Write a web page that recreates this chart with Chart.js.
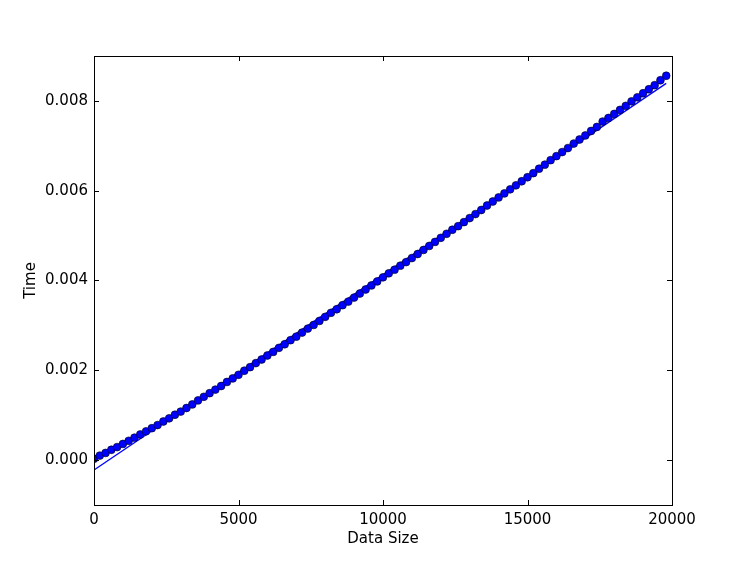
<!DOCTYPE html>
<html>
<head>
<meta charset="utf-8">
<script src="https://cdn.jsdelivr.net/npm/chart.js@4/dist/chart.umd.min.js"></script>
<style>
  html, body { margin: 0; padding: 0; background: #fff; }
  canvas { display: block; }
</style>
</head>
<body>
<canvas id="chart" width="747" height="561"></canvas>
<script>
// data sizes sampled every 200
const sizes = [
  0, 200, 400, 600, 800, 1000, 1200, 1400, 1600, 1800,
  2000, 2200, 2400, 2600, 2800, 3000, 3200, 3400, 3600, 3800,
  4000, 4200, 4400, 4600, 4800, 5000, 5200, 5400, 5600, 5800,
  6000, 6200, 6400, 6600, 6800, 7000, 7200, 7400, 7600, 7800,
  8000, 8200, 8400, 8600, 8800, 9000, 9200, 9400, 9600, 9800,
  10000, 10200, 10400, 10600, 10800, 11000, 11200, 11400, 11600, 11800,
  12000, 12200, 12400, 12600, 12800, 13000, 13200, 13400, 13600, 13800,
  14000, 14200, 14400, 14600, 14800, 15000, 15200, 15400, 15600, 15800,
  16000, 16200, 16400, 16600, 16800, 17000, 17200, 17400, 17600, 17800,
  18000, 18200, 18400, 18600, 18800, 19000, 19200, 19400, 19600, 19800
];
// measured times
const times = [
  0.00003, 0.00010, 0.00016, 0.00023, 0.00029, 0.00036, 0.00043, 0.00050, 0.00057, 0.00064,
  0.00071, 0.00078, 0.00086, 0.00093, 0.00101, 0.00108, 0.00116, 0.00124, 0.00133, 0.00141,
  0.00149, 0.00157, 0.00165, 0.00174, 0.00182, 0.00190, 0.00199, 0.00207, 0.00216, 0.00224,
  0.00233, 0.00241, 0.00250, 0.00258, 0.00267, 0.00275, 0.00284, 0.00293, 0.00301, 0.00310,
  0.00319, 0.00328, 0.00336, 0.00345, 0.00353, 0.00362, 0.00371, 0.00380, 0.00389, 0.00398,
  0.00407, 0.00416, 0.00424, 0.00433, 0.00441, 0.00450, 0.00459, 0.00468, 0.00477, 0.00486,
  0.00495, 0.00504, 0.00513, 0.00521, 0.00530, 0.00539, 0.00548, 0.00557, 0.00567, 0.00576,
  0.00585, 0.00594, 0.00603, 0.00612, 0.00621, 0.00630, 0.00639, 0.00649, 0.00658, 0.00668,
  0.00677, 0.00686, 0.00695, 0.00705, 0.00714, 0.00723, 0.00733, 0.00742, 0.00754, 0.00762,
  0.00771, 0.00780, 0.00789, 0.00799, 0.00808, 0.00817, 0.00826, 0.00835, 0.00846, 0.00856
];
// linear fit, at first and last size
const fitSizes = [0, 19800];
const fitTimes = [-0.00022, 0.00839];

const xTicks = [0, 5000, 10000, 15000, 20000];
const yTicks = [0.000, 0.002, 0.004, 0.006, 0.008];

const FONT = { family: "'DejaVu Sans', sans-serif", size: 15 };
const TICK = 5;

// inward ticks on all four sides plus the black frame
const frame = {
  id: "frame",
  afterDatasetsDraw(chart) {
    const { ctx, chartArea: a, scales } = chart;
    ctx.save();
    ctx.strokeStyle = "#000";
    ctx.lineWidth = 1;
    ctx.beginPath();
    scales.x.ticks.forEach(t => {
      const px = Math.round(scales.x.getPixelForValue(t.value)) + 0.5;
      ctx.moveTo(px, a.bottom); ctx.lineTo(px, a.bottom - TICK);
      ctx.moveTo(px, a.top); ctx.lineTo(px, a.top + TICK);
    });
    scales.y.ticks.forEach(t => {
      const py = Math.round(scales.y.getPixelForValue(t.value)) + 0.5;
      ctx.moveTo(a.left, py); ctx.lineTo(a.left + TICK, py);
      ctx.moveTo(a.right, py); ctx.lineTo(a.right - TICK, py);
    });
    ctx.stroke();
    ctx.strokeRect(Math.round(a.left) + 0.5, Math.round(a.top) + 0.5,
      Math.round(a.right - a.left), Math.round(a.bottom - a.top));
    ctx.restore();
  }
};

new Chart(document.getElementById("chart"), {
  type: "scatter",
  data: {
    datasets: [{
      data: sizes.map((x, i) => ({ x: x, y: times[i] })),
      backgroundColor: "#0000ff",
      borderColor: "#000",
      borderWidth: 0.6,
      pointRadius: 3.9,
      clip: 0,
      order: 0
    }, {
      type: "line",
      data: fitSizes.map((x, i) => ({ x: x, y: fitTimes[i] })),
      borderColor: "#0000ff",
      borderWidth: 1.3,
      pointRadius: 0,
      fill: false,
      clip: 0,
      order: 1
    }]
  },
  options: {
    responsive: false,
    animation: false,
    devicePixelRatio: 1,
    layout: { padding: { top: 56, right: 75, bottom: 0, left: 0 } },
    plugins: { legend: { display: false }, tooltip: { enabled: false } },
    scales: {
      x: {
        type: "linear",
        min: 0,
        max: 20000,
        afterBuildTicks: s => { s.ticks = xTicks.map(v => ({ value: v })); },
        afterFit: s => { s.height = 56; },
        grid: { display: false, drawTicks: false },
        border: { display: false },
        ticks: {
          color: "#000",
          font: FONT,
          padding: 6,
          maxRotation: 0,
          callback: v => String(v)
        },
        title: { display: true, text: "Data Size", color: "#000", font: FONT, padding: { top: 0, bottom: 13 } }
      },
      y: {
        type: "linear",
        min: -0.001,
        max: 0.009,
        afterBuildTicks: s => { s.ticks = yTicks.map(v => ({ value: v })); },
        afterFit: s => { s.width = 94; },
        grid: { display: false, drawTicks: false },
        border: { display: false },
        ticks: {
          color: "#000",
          font: FONT,
          padding: 6,
          callback: v => Number(v).toFixed(3)
        },
        title: { display: true, text: "Time", color: "#000", font: FONT, padding: { top: 22, bottom: 0 } }
      }
    }
  },
  plugins: [frame]
});
</script>
</body>
</html>
